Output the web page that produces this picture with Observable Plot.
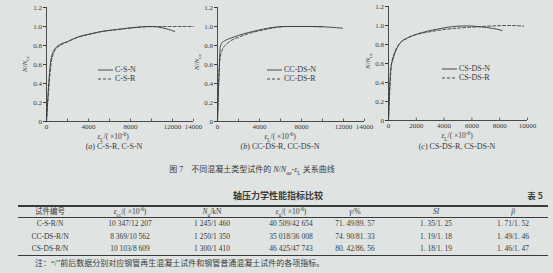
<!DOCTYPE html>
<html>
<head>
<meta charset="utf-8">
<script src="https://cdn.jsdelivr.net/npm/d3@7"></script>
<script src="https://cdn.jsdelivr.net/npm/@observablehq/plot@0.6"></script>
<style>
  html, body { margin: 0; padding: 0; background: #dfe3e1; }
  #page {
    position: relative; width: 553px; height: 273px; overflow: hidden;
    background: #dfe3e1; color: #3a3a3a;
    font-family: "Liberation Serif", "Noto Sans CJK SC", serif;
  }
  .abs { position: absolute; white-space: nowrap; line-height: 1; }
  .c { transform: translate(-50%, -50%); }
  .panel { position: absolute; width: 200px; }
  .rule { position: absolute; background: #3a3a3a; }
  sub, sup { font-size: 70%; line-height: 0; }
</style>
</head>
<body>
<div id="page"></div>
<script>
// ---- Fig. 7: normalised load N/Nue against longitudinal strain (×10^-6) ----
// (a) C-S-N (solid) and C-S-R (dashed)
const csN_strain = [0, 420, 740, 1200, 2000, 3000, 4000, 5200, 6800, 8400, 9700, 10600, 11600, 12200];
const csN_ratio  = [0, 0.65, 0.755, 0.805, 0.84, 0.89, 0.918, 0.947, 0.97, 0.99, 1.0, 0.995, 0.97, 0.948];
const csR_strain = [0, 450, 800, 1300, 2000, 3000, 4000, 5200, 6800, 8400, 9600, 11000, 12500, 14000];
const csR_ratio  = [0, 0.62, 0.75, 0.8, 0.84, 0.888, 0.915, 0.945, 0.968, 0.988, 0.998, 1.0, 1.0, 1.0];

// (b) CC-DS-N (solid) and CC-DS-R (dashed)
const ccN_strain = [0, 150, 260, 400, 730, 1500, 2500, 3750, 5000, 6300, 9100, 10700, 11900];
const ccN_ratio  = [0, 0.5, 0.78, 0.825, 0.852, 0.887, 0.923, 0.958, 0.986, 1.0, 1.0, 0.993, 0.982];
const ccR_strain = [0, 200, 420, 730, 1200, 2000, 3100, 4400, 5600, 6600, 8500, 10000];
const ccR_ratio  = [0, 0.62, 0.745, 0.8, 0.845, 0.887, 0.93, 0.965, 0.99, 1.0, 1.0, 0.997];

// (c) CS-DS-N (solid) and CS-DS-R (dashed)
const cdN_strain = [0, 167, 287, 526, 884, 1362, 2079, 2796, 3751, 4946, 5663, 6619, 7575, 8172];
const cdN_ratio  = [0, 0.557, 0.628, 0.734, 0.823, 0.869, 0.911, 0.94, 0.968, 0.993, 0.996, 0.986, 0.968, 0.947];
const cdR_strain = [0, 215, 406, 765, 1243, 1840, 2796, 3990, 5185, 6380, 7575, 8770, 9725];
const cdR_ratio  = [0, 0.59, 0.7, 0.805, 0.858, 0.897, 0.929, 0.957, 0.975, 0.986, 0.996, 1.0, 0.993];

// axis ticks
const yTicks = [0, 0.2, 0.4, 0.6, 0.8, 1.0, 1.2];
const xTicks14 = [0, 2000, 4000, 6000, 8000, 10000, 12000, 14000];
const xLabels14 = [0, 4000, 8000, 12000, 14000];
const xTicks10 = [0, 2000, 4000, 6000, 8000, 10000];

// ---- Table 5: axial compression performance indices (recycled / normal) ----
const tableHeaders = ["试件编号", "<i>ε</i><sub>cc</sub>/( ×10<sup>-6</sup>)", "<i>N</i><sub>u</sub>/kN",
  "<i>ε</i><sub>u</sub>/( ×10<sup>-6</sup>)", "<i>γ</i>/%", "<i>SI</i>", "<i>β</i>"];
const specimens      = ["C-S-R/N", "CC-DS-R/N", "CS-DS-R/N"];
const peakStrain     = ["10 347/12 207", "8 369/10 562", "10 103/8 609"];
const ultimateLoad   = ["1 245/1 460", "1 250/1 350", "1 300/1 410"];
const ultimateStrain = ["40 509/42 654", "35 018/36 008", "46 425/47 743"];
const gammaPct       = ["71. 49/89. 57", "74. 90/81. 33", "80. 42/86. 56"];
const strengthIndex  = ["1. 35/1. 25", "1. 19/1. 18", "1. 18/1. 19"];
const betaIndex      = ["1. 71/1. 52", "1. 49/1. 46", "1. 46/1. 47"];

const ink = "#3a3a3a";
const page = document.getElementById("page");

function rows(xs, ys) { return xs.map((x, i) => ({strain: x, ratio: ys[i]})); }

function addText(html, x, y, {size = 8, center = true, weight = "normal", family = null, rotate = 0} = {}) {
  const el = document.createElement("div");
  el.className = "abs" + (center ? " c" : "");
  el.style.left = x + "px";
  el.style.top = y + "px";
  el.style.fontSize = size + "px";
  el.style.fontWeight = weight;
  if (family) el.style.fontFamily = family;
  if (!center) el.style.transform = "translateY(-50%)";
  if (rotate) el.style.transform = `translate(-50%, -50%) rotate(${rotate}deg)`;
  el.innerHTML = html;
  page.appendChild(el);
  return el;
}

function legend(x, y, solidName, dashedName) {
  const ns = "http://www.w3.org/2000/svg";
  const svg = document.createElementNS(ns, "svg");
  svg.setAttribute("width", 16); svg.setAttribute("height", 14);
  svg.style.position = "absolute"; svg.style.left = x + "px"; svg.style.top = (y - 2) + "px";
  [[2, null], [11, "3,2"]].forEach(([yy, dash]) => {
    const l = document.createElementNS(ns, "line");
    l.setAttribute("x1", 0); l.setAttribute("x2", 15);
    l.setAttribute("y1", yy); l.setAttribute("y2", yy);
    l.setAttribute("stroke", ink); l.setAttribute("stroke-width", 0.9);
    if (dash) l.setAttribute("stroke-dasharray", dash);
    svg.appendChild(l);
  });
  page.appendChild(svg);
  addText(solidName, x + 17, y, {size: 8, center: false});
  addText(dashedName, x + 17, y + 9, {size: 8, center: false});
}

function panel({solid, dashed, xMax, xTicks, xLabels, left, top, marginRight}) {
  const chart = Plot.plot({
    width: 200, height: 132,
    marginLeft: 46, marginRight, marginTop: 7, marginBottom: 11,
    style: {background: "transparent", color: ink, fontFamily: "Liberation Serif", fontSize: "7px", overflow: "visible"},
    x: {domain: [0, xMax]},
    y: {domain: [0, 1.2]},
    marks: [
      Plot.axisY(yTicks, {tickSize: 3, tickPadding: 1.5, label: null, stroke: ink,
        tickFormat: d => d === 0 ? "0" : d.toFixed(1)}),
      Plot.axisX(xLabels, {tickSize: 0, tickPadding: 2.5, label: null, tickFormat: d => String(d)}),
      Plot.ruleX(xTicks, {x: d => d, y1: 0, y2: 0.025, stroke: ink, strokeWidth: 0.8}),
      Plot.ruleX([0], {y1: 0, y2: 1.2, stroke: ink, strokeWidth: 0.9}),
      Plot.ruleY([0], {x1: 0, x2: xMax, stroke: ink, strokeWidth: 0.9}),
      Plot.line(dashed, {x: "strain", y: "ratio", curve: "monotone-x", stroke: ink, strokeWidth: 0.9, strokeDasharray: "3,2"}),
      Plot.line(solid, {x: "strain", y: "ratio", curve: "monotone-x", stroke: ink, strokeWidth: 0.9})
    ]
  });
  const holder = document.createElement("div");
  holder.className = "panel";
  holder.style.left = left + "px";
  holder.style.top = top + "px";
  holder.appendChild(chart);
  page.appendChild(holder);
}

const yLabel = "<i>N</i>/<i>N</i><sub>ue</sub>";
const xLabel = "<i>ε</i><sub>L</sub>/( ×10<sup>-6</sup>)";

// panel (a)
panel({solid: rows(csN_strain, csN_ratio), dashed: rows(csR_strain, csR_ratio),
  xMax: 14000, xTicks: xTicks14, xLabels: xLabels14, left: 0, top: 0, marginRight: 7});
addText(yLabel, 25, 64, {size: 7, rotate: -90});
addText(xLabel, 113, 137, {size: 7.5});
addText("(<i>a</i>) C-S-R, C-S-N", 114, 146.5, {size: 8});
legend(98, 70, "C-S-N", "C-S-R");

// panel (b)
panel({solid: rows(ccN_strain, ccN_ratio), dashed: rows(ccR_strain, ccR_ratio),
  xMax: 14000, xTicks: xTicks14, xLabels: xLabels14, left: 171, top: 0, marginRight: 7});
addText(yLabel, 197, 62, {size: 7, rotate: -90});
addText(xLabel, 280, 137, {size: 7.5});
addText("(<i>b</i>) CC-DS-R, CC-DS-N", 280, 146.5, {size: 8});
legend(267, 70, "CC-DS-N", "CC-DS-R");

// panel (c)
panel({solid: rows(cdN_strain, cdN_ratio), dashed: rows(cdR_strain, cdR_ratio),
  xMax: 10000, xTicks: xTicks10, xLabels: xTicks10, left: 342, top: -1, marginRight: 15});
addText(yLabel, 368, 61, {size: 7, rotate: -90});
addText(xLabel, 457, 136, {size: 7.5});
addText("(<i>c</i>) CS-DS-R, CS-DS-N", 457, 146.5, {size: 8});
legend(442, 69, "CS-DS-N", "CS-DS-R");

// figure caption
addText("图 7　不同混凝土类型试件的 <i>N</i>/<i>N</i><sub>ue</sub>-<i>ε</i><sub>L</sub> 关系曲线", 252, 170, {size: 8});

// table title
addText("轴压力学性能指标比较", 278, 195, {size: 9, weight: "bold", family: "Noto Sans CJK SC"});
addText("表 5", 535, 195, {size: 8.5, weight: "bold", family: "Noto Sans CJK SC"});

// table rules
function rule(y, h) {
  const r = document.createElement("div");
  r.className = "rule";
  r.style.left = "18px"; r.style.width = "530px";
  r.style.top = (y - h / 2) + "px"; r.style.height = h + "px";
  page.appendChild(r);
}
rule(206, 1.1);
rule(217.5, 0.6);
rule(255.5, 1.1);

const colCenters = [50, 130, 212, 291, 355, 436, 513];
tableHeaders.forEach((h, i) => addText(h, colCenters[i], 211.8, {size: 7.5}));
const columns = [specimens, peakStrain, ultimateLoad, ultimateStrain, gammaPct, strengthIndex, betaIndex];
const rowY = [224, 236.5, 249];
columns.forEach((col, i) => col.forEach((v, j) => addText(v, colCenters[i], rowY[j], {size: 7.5})));

addText("注：“/”前后数据分别对应钢管再生混凝土试件和钢管普通混凝土试件的各项指标。", 35, 264, {size: 8, center: false});
</script>
</body>
</html>
